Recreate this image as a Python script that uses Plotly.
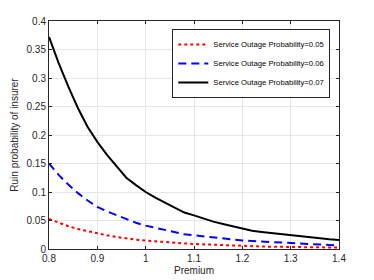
import plotly.graph_objects as go

premium = [0.80, 0.82, 0.84, 0.86, 0.88, 0.90, 0.92, 0.94, 0.96, 0.98, 1.00,
           1.02, 1.04, 1.06, 1.08, 1.10, 1.12, 1.14, 1.16, 1.18, 1.20,
           1.22, 1.24, 1.26, 1.28, 1.30, 1.32, 1.34, 1.36, 1.38, 1.40]

ruin_005 = [0.0526, 0.046, 0.040, 0.035, 0.031, 0.027, 0.024, 0.021, 0.0185, 0.0165, 0.0148,
            0.0133, 0.012, 0.0108, 0.0098, 0.0088, 0.008, 0.0072, 0.0065, 0.0058, 0.0052,
            0.0048, 0.0044, 0.0040, 0.0037, 0.0034, 0.0032, 0.0030, 0.0028, 0.0026, 0.0025]

ruin_006 = [0.150, 0.130, 0.113, 0.098, 0.085, 0.074, 0.066, 0.059, 0.052, 0.046, 0.041,
            0.037, 0.033, 0.029, 0.026, 0.024, 0.022, 0.020, 0.018, 0.016, 0.015,
            0.014, 0.013, 0.012, 0.011, 0.010, 0.009, 0.0085, 0.008, 0.007, 0.0065]

ruin_007 = [0.372, 0.326, 0.285, 0.247, 0.214, 0.188, 0.165, 0.145, 0.125, 0.112, 0.100,
            0.090, 0.081, 0.072, 0.064, 0.059, 0.053, 0.048, 0.044, 0.040, 0.037,
            0.032, 0.030, 0.028, 0.026, 0.024, 0.022, 0.020, 0.018, 0.017, 0.016]

names = ["Service Outage Probability=0.05",
         "Service Outage Probability=0.06",
         "Service Outage Probability=0.07"]

x_ticks = [0.8, 0.9, 1.0, 1.1, 1.2, 1.3, 1.4]
x_tick_labels = ["0.8", "0.9", "1", "1.1", "1.2", "1.3", "1.4"]
y_ticks = [0, 0.05, 0.1, 0.15, 0.2, 0.25, 0.3, 0.35, 0.4]
y_tick_labels = ["0", "0.05", "0.1", "0.15", "0.2", "0.25", "0.3", "0.35", "0.4"]

fig = go.Figure()
fig.add_trace(go.Scatter(x=premium, y=ruin_005, mode="lines", name=names[0],
                         line=dict(color="#ff0000", width=2, dash="dot")))
fig.add_trace(go.Scatter(x=premium, y=ruin_006, mode="lines", name=names[1],
                         line=dict(color="#0000ff", width=2, dash="8px,5px")))
fig.add_trace(go.Scatter(x=premium, y=ruin_007, mode="lines", name=names[2],
                         line=dict(color="#000000", width=2)))

axis_common = dict(showline=True, linecolor="#262626", linewidth=1, mirror="ticks",
                   ticks="inside", ticklen=3, tickcolor="#262626", automargin=False,
                   showgrid=True, gridcolor="#e6e6e6", gridwidth=1, zeroline=False,
                   tickfont=dict(family="Liberation Sans, Arial", size=10, color="#262626"))

fig.update_layout(
    width=374, height=280,
    margin=dict(l=49, r=35, t=21, b=31),
    paper_bgcolor="white", plot_bgcolor="white",
    font=dict(family="Liberation Sans, Arial", color="#262626"),
    xaxis=dict(range=[0.8, 1.4], tickvals=x_ticks, ticktext=x_tick_labels,
               title=dict(text="Premium", font=dict(size=10, color="#262626"), standoff=3),
               **axis_common),
    yaxis=dict(range=[0, 0.4], tickvals=y_ticks, ticktext=y_tick_labels,
               title=dict(text="Ruin probability of insurer", font=dict(size=10, color="#262626"), standoff=6),
               **axis_common),
    legend=dict(x=0.97, y=0.965, xanchor="right", yanchor="top",
                bgcolor="white", bordercolor="#262626", borderwidth=1,
                font=dict(size=7.7, color="#000000"), tracegroupgap=0,
                itemwidth=30),
    showlegend=True,
)

fig.write_html("out.html", config={"displayModeBar": False},
               post_script="document.body.style.margin='0';document.body.style.overflow='hidden';")
